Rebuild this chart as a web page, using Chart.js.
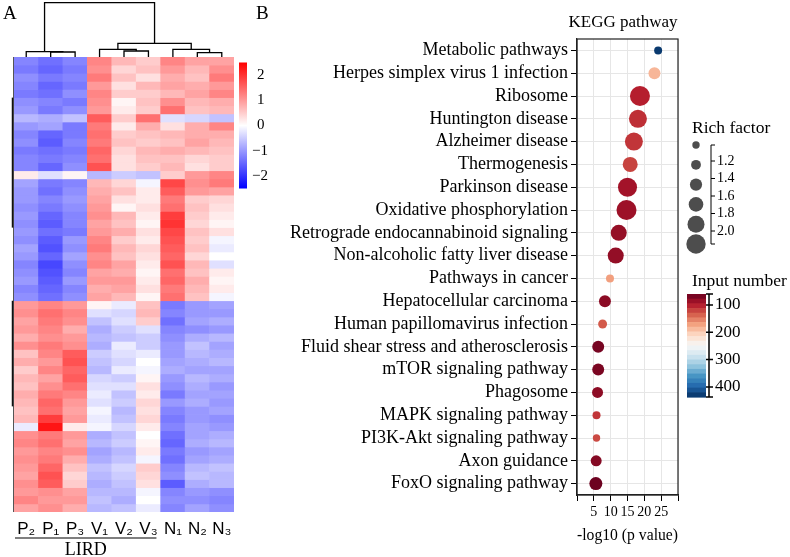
<!DOCTYPE html>
<html>
<head>
<meta charset="utf-8">
<script src="https://cdn.jsdelivr.net/npm/chart.js@4.4.0/dist/chart.umd.min.js"></script>
<style>
  html, body { margin: 0; padding: 0; background: #fff; }
  #wrap { position: relative; width: 790px; height: 557px; overflow: hidden; }
  canvas { position: absolute; top: 0; }
  #heat { left: 0; }
  #kegg { left: 250px; }
</style>
</head>
<body>
<div id="wrap">
  <canvas id="heat" width="275" height="557"></canvas>
  <canvas id="kegg" width="540" height="557"></canvas>
</div>
<script>
// ---- panel A: heatmap ----
const samples = ['P\u2082', 'P\u2081', 'P\u2083', 'V\u2081', 'V\u2082', 'V\u2083', 'N\u2081', 'N\u2082', 'N\u2083'];
// z-scores, one row per gene band, columns in sample order
const heatRows = [
  [-1.2, -1.4, -1.2, 1.2, 0.7, 0.5, 1.2, 0.9, 0.9],
  [-1.3, -1.5, -1.3, 1.1, 0.4, 0.6, 1.0, 0.7, 1.1],
  [-1.1, -1.3, -1.2, 1.3, 0.6, 0.3, 0.8, 0.6, 1.3],
  [-1.2, -1.5, -1.3, 1.0, 0.3, 0.7, 0.9, 0.8, 1.0],
  [-1.3, -1.4, -1.1, 1.2, 0.5, 0.5, 0.7, 0.9, 1.2],
  [-1.1, -1.2, -1.3, 1.1, 0.1, 0.6, 1.1, 0.7, 0.8],
  [-1.0, -1.3, -1.1, 1.0, 0.2, 0.5, 1.4, 0.6, 0.7],
  [-0.7, -0.8, -0.6, 1.6, 0.5, 1.4, -0.3, -0.4, -0.6],
  [-1.0, -0.9, -1.3, 1.3, 0.2, 0.8, 0.3, 0.8, 1.2],
  [-1.2, -1.5, -1.3, 1.4, 0.5, 0.6, 0.7, 0.8, 0.8],
  [-1.1, -1.6, -1.2, 1.3, 0.6, 0.5, 0.6, 0.9, 0.7],
  [-1.3, -1.4, -1.3, 1.5, 0.4, 0.7, 0.8, 0.7, 0.6],
  [-1.2, -1.3, -1.2, 1.4, 0.3, 0.6, 0.6, 0.4, 0.5],
  [-1.2, -1.5, -1.1, 1.7, 0.3, 0.5, 0.7, 0.3, 0.5],
  [0.2, -0.3, 0.1, -0.7, -0.5, -0.6, 0.5, 1.0, 1.2],
  [-0.9, -1.3, -1.2, 0.7, 0.4, -0.1, 1.8, 1.1, 1.3],
  [-1.0, -1.4, -1.1, 0.8, 0.6, 0.2, 1.6, 1.0, 0.9],
  [-1.0, -1.2, -1.0, 0.9, 0.3, 0.2, 1.3, 0.5, 0.4],
  [-1.1, -1.3, -1.1, 1.0, 0.1, 0.3, 1.4, 0.6, 0.3],
  [-1.0, -1.5, -1.2, 1.1, 0.7, 0.2, 1.9, 0.5, 0.2],
  [-1.1, -1.6, -1.2, 0.9, 0.6, 0.1, 2.0, 0.4, 0.1],
  [-1.0, -1.4, -1.3, 1.0, 0.8, 0.3, 1.8, 0.6, 0.3],
  [-1.1, -1.6, -1.0, 1.2, 0.5, 0.2, 1.7, 0.5, -0.1],
  [-0.9, -1.7, -1.1, 1.3, 0.7, 0.4, 1.6, 0.6, -0.2],
  [-1.0, -1.5, -0.9, 1.1, 0.6, 0.3, 1.5, 0.4, 0.0],
  [-1.2, -1.8, -1.1, 1.2, 0.9, 0.2, 1.7, 0.7, -0.3],
  [-1.1, -1.7, -1.2, 0.9, 0.8, 0.1, 1.4, 0.6, 0.2],
  [-1.0, -1.6, -1.0, 1.0, 1.0, 0.2, 1.5, 0.8, 0.1],
  [-1.2, -1.5, -1.2, 0.8, 0.9, 0.3, 1.3, 0.7, 0.2],
  [-1.1, -1.4, -1.1, 0.9, 0.7, 0.1, 1.4, 0.6, -0.1],
  [1.0, 1.2, 1.0, 0.1, -0.2, 0.6, -1.3, -1.0, -0.9],
  [1.1, 1.4, 1.2, -0.3, -0.4, 0.7, -1.2, -1.0, -1.0],
  [0.9, 1.3, 1.1, -0.6, -0.3, 0.5, -1.4, -0.9, -0.8],
  [1.0, 1.2, 0.8, -0.8, -0.5, -0.3, -1.2, -1.1, -1.0],
  [0.8, 1.1, 1.0, -0.7, -0.6, -0.5, -1.1, -0.8, -0.7],
  [1.1, 1.3, 1.1, -0.8, -0.2, -0.5, -1.0, -0.6, -0.9],
  [0.6, 1.2, 1.6, -0.5, -0.3, -0.2, -1.0, -0.7, -0.8],
  [0.8, 1.0, 1.7, -0.6, -0.4, 0.0, -0.9, -0.8, -0.7],
  [0.5, 1.2, 1.5, -0.7, -0.2, -0.1, -0.8, -0.9, -0.9],
  [0.7, 0.9, 1.6, -0.4, -0.5, 0.1, -1.0, -0.7, -0.8],
  [0.6, 1.1, 1.4, -0.3, -0.3, 0.3, -1.1, -0.8, -1.0],
  [0.8, 1.3, 1.2, -0.2, -0.6, 0.2, -1.3, -0.9, -0.9],
  [0.7, 1.5, 1.0, -0.3, -0.5, 0.4, -1.0, -0.8, -1.0],
  [0.6, 1.4, 0.9, -0.1, -0.7, 0.3, -1.2, -1.0, -0.9],
  [0.7, 1.9, 1.0, -0.2, -0.6, 0.4, -1.3, -1.0, -1.1],
  [-0.2, 2.3, 0.2, -0.1, -0.4, 0.2, -1.2, -0.9, -1.0],
  [1.1, 1.3, 1.0, -0.8, -0.6, 0.0, -1.4, -0.9, -0.8],
  [1.2, 1.4, 0.9, -0.7, -0.5, 0.1, -1.5, -0.8, -0.7],
  [1.0, 1.2, 1.1, -0.9, -0.7, 0.2, -1.3, -1.0, -0.9],
  [1.1, 1.3, 0.8, -0.8, -0.6, -0.1, -1.4, -0.9, -0.8],
  [1.0, 1.5, 0.6, -0.6, -0.4, 0.5, -1.2, -0.7, -0.6],
  [0.9, 1.7, 0.4, -0.7, -0.5, 0.4, -1.1, -0.6, -0.7],
  [1.1, 1.6, 0.5, -0.8, -0.6, 0.3, -1.6, -0.8, -0.7],
  [1.0, 1.1, 0.9, -0.7, -0.7, -0.1, -1.2, -1.0, -1.1],
  [1.2, 1.0, 1.0, -0.6, -0.8, 0.0, -1.1, -1.1, -1.2],
  [0.9, 1.1, 0.8, -0.7, -0.6, -0.2, -1.2, -0.9, -1.1]
];
const heatTicks = [2, 1, 0, -1, -2];
// column dendrogram merges [left, right, height]; leaves 0..8, new nodes numbered from 9
const colMerges = [[1, 2, 5], [0, 9, 5.4], [4, 5, 6], [3, 11, 7.7], [7, 8, 4.3], [6, 13, 7.7], [12, 14, 13.7], [10, 15, 54.3]];

// ---- panel B: KEGG bubbles ----
const pathways = [
  'Metabolic pathways', 'Herpes simplex virus 1 infection', 'Ribosome', 'Huntington disease',
  'Alzheimer disease', 'Thermogenesis', 'Parkinson disease', 'Oxidative phosphorylation',
  'Retrograde endocannabinoid signaling', 'Non-alcoholic fatty liver disease', 'Pathways in cancer',
  'Hepatocellular carcinoma', 'Human papillomavirus infection', 'Fluid shear stress and atherosclerosis',
  'mTOR signaling pathway', 'Phagosome', 'MAPK signaling pathway', 'PI3K-Akt signaling pathway',
  'Axon guidance', 'FoxO signaling pathway'
];
const logP = [24.1, 23.0, 18.7, 18.1, 16.9, 15.8, 15.0, 14.7, 12.4, 11.5, 9.8, 8.3, 7.6, 6.3, 6.3, 6.1, 5.8, 5.8, 5.7, 5.6];
const richFactor = [1.10, 1.43, 2.10, 1.93, 1.93, 1.68, 2.02, 2.10, 1.77, 1.77, 1.10, 1.43, 1.18, 1.43, 1.43, 1.35, 1.10, 1.05, 1.35, 1.52];
const inputNumber = [430, 185, 101, 110, 113, 120, 90, 87, 83, 82, 170, 78, 132, 68, 70, 79, 113, 124, 75, 63];
const richTicks = [1.2, 1.4, 1.6, 1.8, 2.0];
const richLegend = [1.05, 1.25, 1.45, 1.65, 1.85, 2.05];
const inputTicks = [100, 200, 300, 400];

const serif = '"Liberation Serif", "Times New Roman", serif';

function heatColor(v) {
  const t = Math.max(-1, Math.min(1, v / 2.5));
  const g = Math.round(255 * (1 - Math.abs(t)));
  return t >= 0 ? `rgb(255,${g},${g})` : `rgb(${g},${g},255)`;
}

const rdbuStops = ['#67001f', '#b2182b', '#d6604d', '#f4a582', '#fddbc7', '#f7f7f7', '#d1e5f0', '#92c5de', '#4393c3', '#2166ac', '#053061'];
const hex = h => [1, 3, 5].map(i => parseInt(h.substr(i, 2), 16));
function rdbu(t) {
  t = Math.max(0, Math.min(1, t)) * (rdbuStops.length - 1);
  const i = Math.min(Math.floor(t), rdbuStops.length - 2), f = t - i;
  const a = hex(rdbuStops[i]), b = hex(rdbuStops[i + 1]);
  return `rgb(${a.map((c, k) => Math.round(c + (b[k] - c) * f)).join(',')})`;
}
const inMin = 60, inMax = 437;
const inputColor = v => rdbu((v - inMin) / (inMax - inMin));
const richRadius = rf => 4 + (rf - 1.1) * 6;

// ---------- heatmap chart ----------
const heatDecor = {
  id: 'heatDecor',
  afterDraw(chart) {
    const { ctx, chartArea: a, scales: { x, y } } = chart;
    ctx.save();
    ctx.fillStyle = '#000';
    ctx.font = '19px ' + serif;
    ctx.textBaseline = 'alphabetic';
    ctx.fillText('A', 3, 19);

    // column dendrogram
    const nodes = samples.map((s, i) => ({ x: x.getPixelForValue(i), h: 0 }));
    ctx.strokeStyle = '#000';
    ctx.lineWidth = 1.3;
    colMerges.forEach(([l, r, h]) => {
      const L = nodes[l], R = nodes[r];
      ctx.beginPath();
      ctx.moveTo(L.x, a.top - L.h);
      ctx.lineTo(L.x, a.top - h);
      ctx.lineTo(R.x, a.top - h);
      ctx.lineTo(R.x, a.top - R.h);
      ctx.stroke();
      nodes.push({ x: (L.x + R.x) / 2, h });
    });

    // row dendrogram (squeezed to a thin strip)
    ctx.strokeStyle = '#555';
    ctx.lineWidth = 1;
    ctx.beginPath();
    ctx.moveTo(a.left - 0.5, a.top);
    ctx.lineTo(a.left - 0.5, a.bottom);
    ctx.stroke();
    ctx.strokeStyle = '#111';
    ctx.lineWidth = 1.5;
    [[5, 21], [30, 43]].forEach(([r0, r1]) => {
      ctx.beginPath();
      ctx.moveTo(a.left - 1.5, y.getPixelForValue(r0));
      ctx.lineTo(a.left - 1.5, y.getPixelForValue(r1));
      ctx.stroke();
    });

    // colour key
    const cx = a.right + 5, cw = 8, mid = 125.5, unit = 25.2;
    const top = mid - 2.5 * unit, bot = mid + 2.5 * unit;
    const g = ctx.createLinearGradient(0, top, 0, bot);
    g.addColorStop(0, heatColor(2.5));
    g.addColorStop(0.5, heatColor(0));
    g.addColorStop(1, heatColor(-2.5));
    ctx.fillStyle = g;
    ctx.fillRect(cx, top, cw, bot - top);
    ctx.fillStyle = '#000';
    ctx.font = '15px ' + serif;
    ctx.textBaseline = 'middle';
    heatTicks.forEach(v => {
      ctx.fillText(v < 0 ? '\u2212' + Math.abs(v) : String(v), v < 0 ? cx + 13 : cx + 18, mid - v * unit);
    });

    // group bracket under P and V
    ctx.strokeStyle = '#000';
    ctx.lineWidth = 1.2;
    const x0 = a.left + 1, x1 = x.getPixelForValue(5) + 8;
    ctx.beginPath();
    ctx.moveTo(x0, 538);
    ctx.lineTo(x1, 538);
    ctx.stroke();
    ctx.font = '18px ' + serif;
    ctx.textAlign = 'center';
    ctx.fillText('LIRD', (x0 + x1) / 2, 550);
    ctx.restore();
  }
};

new Chart(document.getElementById('heat'), {
  type: 'bar',
  data: {
    labels: samples,
    datasets: heatRows.map((row, i) => ({
      data: row.map(() => [i, i + 1]),
      backgroundColor: row.map(heatColor),
      borderWidth: 0,
      grouped: false,
      barPercentage: 1,
      categoryPercentage: 1
    }))
  },
  options: {
    responsive: false,
    animation: false,
    devicePixelRatio: 1,
    layout: { padding: { left: 14, right: 41, top: 57, bottom: 0 }, autoPadding: false },
    plugins: { legend: { display: false }, tooltip: { enabled: false } },
    scales: {
      x: {
        grid: { display: false },
        border: { display: false },
        ticks: { color: '#000', font: { family: '"Liberation Sans", "DejaVu Sans", Arial, sans-serif', size: 17 }, padding: -1, maxRotation: 0 },
        afterFit: ax => { ax.height = 45; }
      },
      y: { type: 'linear', min: 0, max: heatRows.length, reverse: true, display: false }
    }
  },
  plugins: [heatDecor]
});

// ---------- KEGG bubble chart ----------
const keggDecor = {
  id: 'keggDecor',
  afterDraw(chart) {
    const { ctx, chartArea: a } = chart;
    ctx.save();
    ctx.strokeStyle = '#222';
    ctx.lineWidth = 1.2;
    ctx.strokeRect(a.left, a.top, a.right - a.left, a.bottom - a.top);

    ctx.fillStyle = '#000';
    ctx.textBaseline = 'alphabetic';
    ctx.font = '19px ' + serif;
    ctx.fillText('B', 6, 19);
    ctx.font = '17px ' + serif;
    ctx.textAlign = 'center';
    ctx.fillText('KEGG pathway', 373, 27);

    // rich factor legend
    const lx = a.right + 14;
    ctx.textAlign = 'left';
    ctx.font = '17.5px ' + serif;
    ctx.fillText('Rich factor', lx, 133);
    const y0 = 145, y1 = 244;
    ctx.fillStyle = '#4d4d4d';
    richLegend.forEach((rf, i) => {
      ctx.beginPath();
      ctx.arc(lx + 4, y0 + (y1 - y0) * i / (richLegend.length - 1), richRadius(rf), 0, Math.PI * 2);
      ctx.fill();
    });
    const bx = a.right + 33;
    const richY = v => 161 + (v - 1.2) * 87.5;
    ctx.strokeStyle = '#000';
    ctx.lineWidth = 1;
    ctx.beginPath();
    ctx.moveTo(bx, y0); ctx.lineTo(bx, y1);
    [y0, y1].concat(richTicks.map(richY)).forEach(ty => { ctx.moveTo(bx, ty); ctx.lineTo(bx + 4, ty); });
    ctx.stroke();
    ctx.fillStyle = '#000';
    ctx.font = '14px ' + serif;
    ctx.textBaseline = 'middle';
    richTicks.forEach(v => ctx.fillText(v.toFixed(1), bx + 6, richY(v)));

    // input number colour bar
    ctx.textBaseline = 'alphabetic';
    ctx.font = '17.5px ' + serif;
    ctx.fillText('Input number', lx, 286);
    const cx = a.right + 9, cw = 19, ct = 294, cb = 397;
    const inY = v => ct + (v - inMin) / (inMax - inMin) * (cb - ct);
    const steps = 22;
    for (let s = 0; s < steps; s++) {
      ctx.fillStyle = inputColor(inMin + (s + 0.5) / steps * (inMax - inMin));
      ctx.fillRect(cx, ct + (cb - ct) * s / steps, cw, (cb - ct) / steps + 0.6);
    }
    const kx = cx + cw + 3;
    ctx.strokeStyle = '#000';
    ctx.lineWidth = 1.5;
    ctx.beginPath();
    ctx.moveTo(kx, ct); ctx.lineTo(kx, cb);
    [ct, cb].concat(inputTicks.map(inY)).forEach(ty => { ctx.moveTo(kx - 3, ty); ctx.lineTo(kx + 4, ty); });
    ctx.stroke();
    ctx.fillStyle = '#000';
    ctx.font = '17px ' + serif;
    ctx.textBaseline = 'middle';
    inputTicks.forEach(v => ctx.fillText(String(v), kx + 6, inY(v)));
    ctx.restore();
  }
};

new Chart(document.getElementById('kegg'), {
  type: 'bubble',
  data: {
    datasets: [{
      data: pathways.map((p, i) => ({ x: logP[i], y: p, r: richRadius(richFactor[i]) })),
      backgroundColor: inputNumber.map(inputColor),
      borderWidth: 0,
      hoverRadius: 0
    }]
  },
  options: {
    responsive: false,
    animation: false,
    devicePixelRatio: 1,
    layout: { padding: { left: 0, right: 112, top: 39, bottom: 0 }, autoPadding: false },
    plugins: { legend: { display: false }, tooltip: { enabled: false } },
    scales: {
      x: {
        type: 'linear', min: 0, max: 30,
        ticks: { stepSize: 5, color: '#000', font: { family: serif, size: 14 }, padding: 3, autoSkip: false, maxRotation: 0, minRotation: 0, callback: v => (v > 0 && v < 30 ? v : '') },
        grid: { color: '#e6e6e6', tickColor: '#000', tickLength: 6 },
        border: { display: true, color: '#222', width: 1.2 },
        title: { display: true, text: '-log10 (p value)', color: '#000', font: { family: serif, size: 17 }, padding: { top: 0, bottom: 11 } },
        afterFit: ax => { ax.height = 62; }
      },
      y: {
        type: 'category', labels: pathways, offset: true,
        ticks: { color: '#000', font: { family: serif, size: 18 }, padding: 3, autoSkip: false },
        grid: { color: '#e6e6e6', tickColor: '#000', tickLength: 6 },
        border: { display: true, color: '#222', width: 1.2 },
        afterFit: ax => { ax.width = 327; }
      }
    }
  },
  plugins: [keggDecor]
});
</script>
</body>
</html>
